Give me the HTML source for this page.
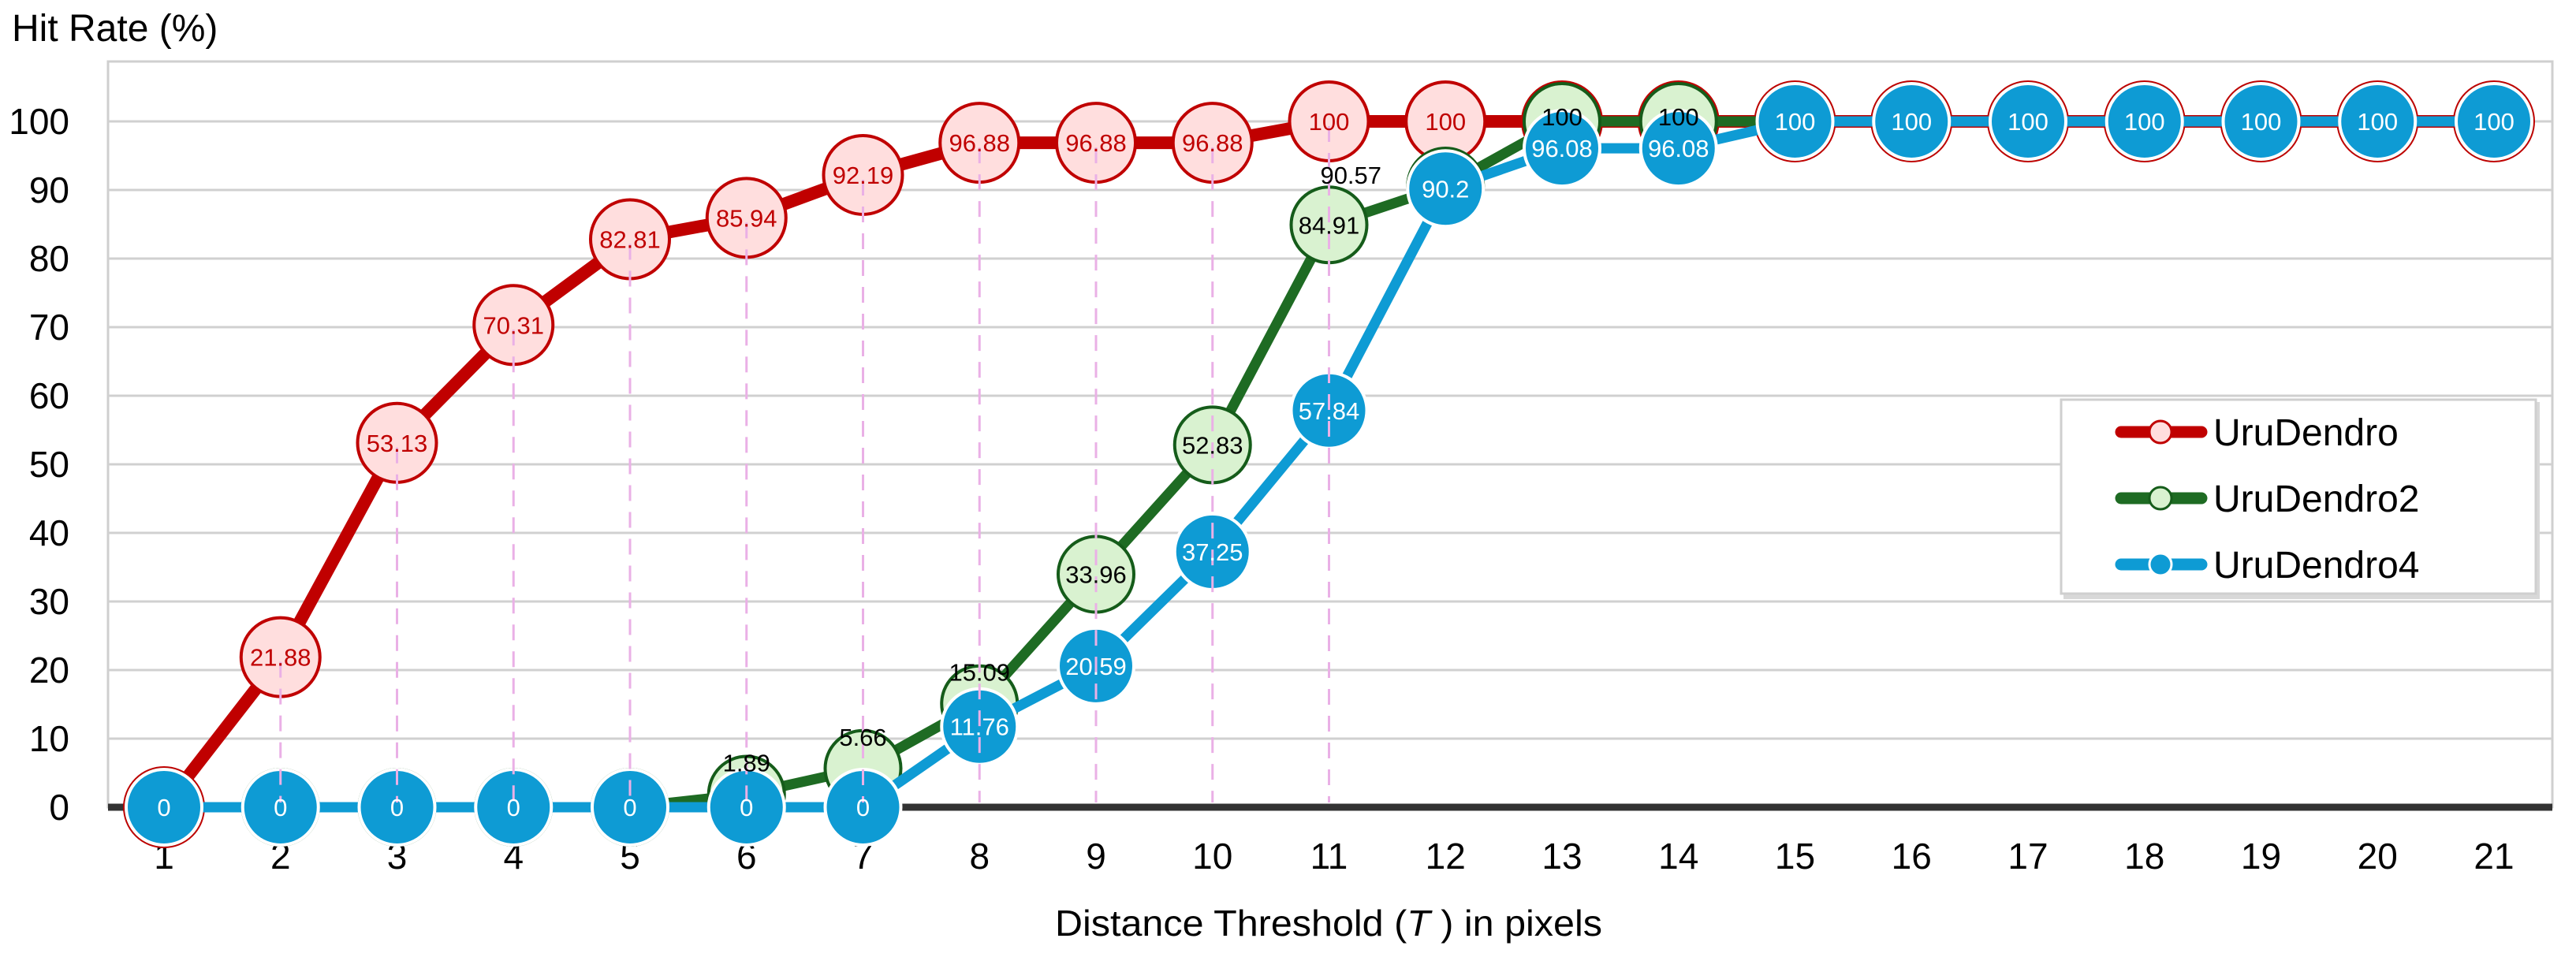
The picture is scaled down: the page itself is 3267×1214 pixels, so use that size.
<!DOCTYPE html>
<html><head><meta charset="utf-8"><style>
html,body{margin:0;padding:0;background:#fff;}
svg{display:block;font-family:"Liberation Sans",sans-serif;}
</style></head><body>
<svg id="chart" width="3267" height="1214" viewBox="0 0 3267 1214" xmlns="http://www.w3.org/2000/svg">
<rect x="0" y="0" width="3267" height="1214" fill="#fff"/>
<text x="15" y="52" font-size="48" fill="#000">Hit Rate (%)</text>
<text x="1685" y="1187" font-size="46" text-anchor="middle" fill="#000" textLength="694" lengthAdjust="spacingAndGlyphs">Distance Threshold (<tspan font-style="italic">T</tspan> ) in pixels</text>
<g id="grid"></g><g id="series"></g><g id="labels"></g><g id="legend"></g>
</svg>
<script>
const categories=[1,2,3,4,5,6,7,8,9,10,11,12,13,14,15,16,17,18,19,20,21];
const yTicks=[0,10,20,30,40,50,60,70,80,90,100];
const uruDendro=[0,21.88,53.13,70.31,82.81,85.94,92.19,96.88,96.88,96.88,100,100,100,100,100,100,100,100,100,100,100];
const uruDendro2=[0,0,0,0,0,1.89,5.66,15.09,33.96,52.83,84.91,90.57,100,100,100,100,100,100,100,100,100];
const uruDendro4=[0,0,0,0,0,0,0,11.76,20.59,37.25,57.84,90.2,96.08,96.08,100,100,100,100,100,100,100];
const seriesNames=["UruDendro","UruDendro2","UruDendro4"];

const NS="http://www.w3.org/2000/svg";
const L=137,R=3237,T=78,Y0=1024,Y100=154;
function x(i){return 208+(i-1)*147.75;}
function y(v){return Y0-(v/100)*(Y0-Y100);}
function mk(tag,attrs,parent){const e=document.createElementNS(NS,tag);for(const k in attrs)e.setAttribute(k,attrs[k]);parent.appendChild(e);return e;}
const grid=document.getElementById('grid');
mk('rect',{x:L,y:T,width:R-L,height:Y0-T,fill:'none',stroke:'#cfcfcf','stroke-width':3},grid);
yTicks.forEach(t=>{
  if(t>0){const g=mk('line',{x1:L,x2:R,y1:y(t),y2:y(t),stroke:'#d0d0d0','stroke-width':3},grid);
  
  }
  const lb=mk('text',{x:88,y:y(t)+16,'font-size':46,'text-anchor':'end',fill:'#000'},grid);lb.textContent=t;
  
  
});
const ax=mk('line',{x1:L,x2:R,y1:Y0,y2:Y0,stroke:'#333','stroke-width':9},grid);


categories.forEach(c=>{
  const lb=mk('text',{x:x(c),y:1102,'font-size':46,'text-anchor':'middle',fill:'#000'},grid);lb.textContent=c;
  
  
});
const ser=document.getElementById('series');
const labels=document.getElementById('labels');
const styles=[
 {data:uruDendro,line:'#c00000',w:16,fill:'#ffdede',stroke:'#c00000',sw:4,tc:'#c00000',r:50,show:i=>i>=1&&i<=11},
 {data:uruDendro2,line:'#1e6b23',w:13,fill:'#d9f2d0',stroke:'#155c1a',sw:4,tc:'#000',r:48,show:i=>i>=5&&i<=13},
 {data:uruDendro4,line:'#0e9bd4',w:13,fill:'#0e9bd4',stroke:'#fff',sw:4,tc:'#fff',r:48,show:i=>true}
];
const offsets={"1-5":[0,-40],"1-6":[0,-40],"1-7":[0,-40],"1-11":[-120,-14],"1-12":[0,-6],"1-13":[0,-6]};
styles.forEach((s,si)=>{
  const g=mk('g',{},ser);
  
  
  const pts=s.data.map((v,i)=>x(categories[i])+','+y(v)).join(' ');
  const pl=mk('polyline',{points:pts,fill:'none',stroke:s.line,'stroke-width':s.w,'stroke-linejoin':'round'},g);
  
  
  s.data.forEach((v,i)=>{
    const c=mk('circle',{cx:x(categories[i]),cy:y(v),r:s.r,fill:s.fill,stroke:s.stroke,'stroke-width':s.sw},g);
    
    
  });
});
// drop lines
const drops=mk('g',{},labels);


uruDendro.forEach((v,i)=>{
  if(i>=1&&i<=10){
    mk('line',{x1:x(categories[i]),x2:x(categories[i]),y1:y(v)+6,y2:Y0-6,stroke:'#eab0e6','stroke-width':3,'stroke-dasharray':'20 14'},drops);
  }
});
[0,2,1].forEach(si=>{
  const s=styles[si];
  s.data.forEach((v,i)=>{
    if(!s.show(i))return;
    const o=offsets[si+'-'+i]||[0,0];
    const t=mk('text',{x:x(categories[i])+o[0],y:y(v)+o[1]+11,'font-size':31,'text-anchor':'middle',fill:s.tc},labels);
    t.textContent=v;
    
    
  });
});
const lg=document.getElementById('legend');


mk('rect',{x:2617,y:510,width:604,height:250,fill:'#d8d8d8'},lg);
mk('rect',{x:2614,y:507,width:602,height:246,fill:'#fff',stroke:'#cfcfcf','stroke-width':3},lg);
const rows=[548,632,716];
styles.forEach((s,si)=>{
  const e=mk('g',{},lg);
  
  
  mk('line',{x1:2690,x2:2792,y1:rows[si],y2:rows[si],stroke:s.line,'stroke-width':15,'stroke-linecap':'round'},e);
  mk('circle',{cx:2740,cy:rows[si],r:14,fill:s.fill,stroke:s.stroke,'stroke-width':3},e);
  const t=mk('text',{x:2807,y:rows[si]+17,'font-size':48,fill:'#000'},e);t.textContent=seriesNames[si];
});
</script>
</body></html>
